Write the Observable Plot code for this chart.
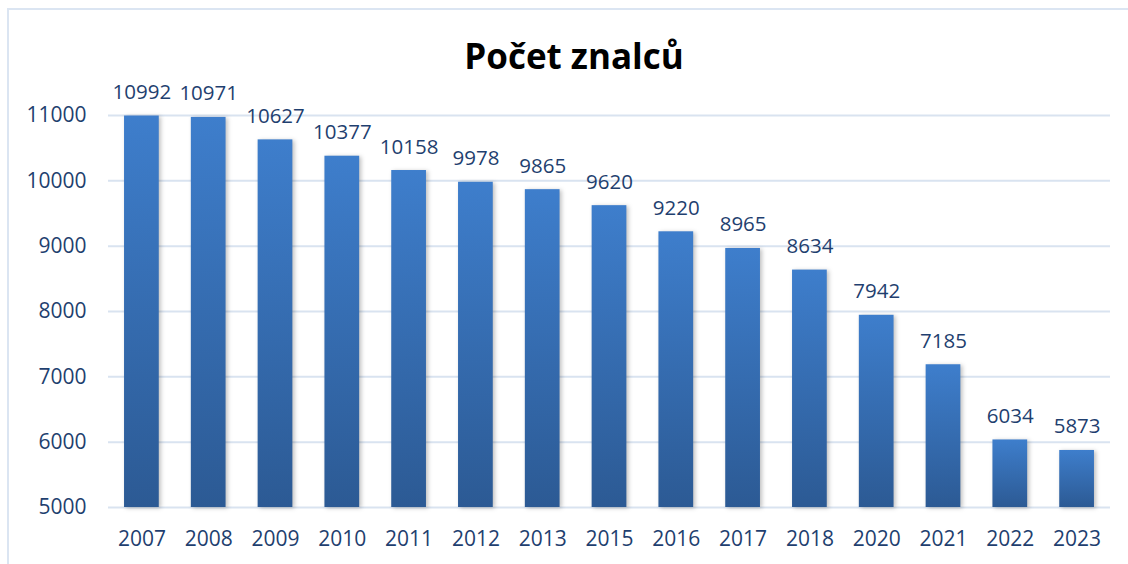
<!DOCTYPE html>
<html>
<head>
<meta charset="utf-8">
<script src="https://cdn.jsdelivr.net/npm/d3@7"></script>
<script src="https://cdn.jsdelivr.net/npm/@observablehq/plot@0.6"></script>
<style>
  body { margin: 0; background: #fff; }
  #wrap { position: relative; width: 1128px; height: 564px; overflow: hidden; font-family: "Open Sans", "Noto Sans", sans-serif; }
  #frame { position: absolute; left: 7px; top: 8px; width: 1140px; height: 600px; border-left: 2px solid #dbe5f2; border-top: 2px solid #dbe5f2; }
  #title { position: absolute; left: 0; width: 1148px; top: 32px; text-align: center; font-size: 35px; font-weight: bold; color: #000; }
  #chart { position: absolute; left: 0; top: 0; }
</style>
</head>
<body>
<div id="wrap">
  <div id="frame"></div>
  <div id="chart"></div>
  <div id="title">Počet znalců</div>
</div>
<script>
const years = ["2007","2008","2009","2010","2011","2012","2013","2015","2016","2017","2018","2020","2021","2022","2023"];
const counts = [10992,10971,10627,10377,10158,9978,9865,9620,9220,8965,8634,7942,7185,6034,5873];
const yTicks = [5000,6000,7000,8000,9000,10000,11000];

const data = years.map((y, i) => ({year: y, value: counts[i]}));
const textColor = "#1f3f6f";

const chart = Plot.plot({
  width: 1128,
  height: 564,
  marginTop: 115,
  marginBottom: 57,
  marginLeft: 108,
  marginRight: 18,
  style: {fontFamily: "'Open Sans', 'Noto Sans', sans-serif", fontSize: "21px", color: textColor, background: "transparent"},
  x: {domain: years, paddingInner: 0.48, paddingOuter: 0.24, round: false, label: null, tickSize: 0, tickPadding: 24},
  y: {domain: [5000, 11000], ticks: yTicks, label: null, tickSize: 0, tickPadding: 22, tickFormat: d => String(d)},
  marks: [
    Plot.gridY(yTicks, {stroke: "#d9e3f0", strokeOpacity: 1, strokeWidth: 2}),
    Plot.barY(data, {x: "year", y1: 5000, y2: "value", fill: "url(#barGrad)"}),
    Plot.text(data, {x: "year", y: "value", text: d => String(d.value), dy: -17, lineAnchor: "bottom", fill: textColor, fontSize: 20.5})
  ]
});

const svg = d3.select(chart);
const defs = svg.insert("defs", ":first-child");
const g = defs.append("linearGradient").attr("id", "barGrad").attr("x1", 0).attr("y1", 0).attr("x2", 0).attr("y2", 1);
g.append("stop").attr("offset", "0%").attr("stop-color", "#3e7ecc");
g.append("stop").attr("offset", "100%").attr("stop-color", "#2c5a94");
svg.selectAll("g[aria-label='bar'] rect").style("filter", "drop-shadow(2px 1px 2px rgba(0,0,0,0.25))");

document.getElementById("chart").appendChild(chart);
</script>
</body>
</html>
